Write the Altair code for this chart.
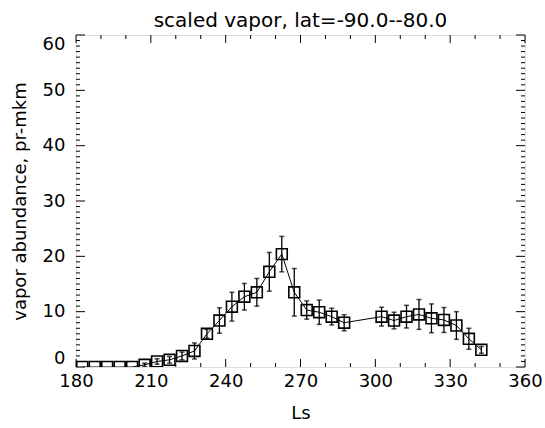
import altair as alt
import pandas as pd

# Data
ls = [182.5, 187.5, 192.5, 197.5, 202.5, 207.5, 212.5, 217.5, 222.5, 227.5,
      232.5, 237.5, 242.5, 247.5, 252.5, 257.5, 262.5, 267.5, 272.5, 277.5,
      282.5, 287.5, 302.5, 307.5, 312.5, 317.5, 322.5, 327.5, 332.5, 337.5, 342.5]
vapor = [0.0, 0.0, 0.0, 0.0, 0.0, 0.4, 1.0, 1.3, 2.0, 2.9,
         6.0, 8.4, 10.9, 12.7, 13.5, 17.2, 20.4, 13.5, 10.3, 9.9,
         9.1, 8.0, 9.1, 8.4, 9.1, 9.5, 8.8, 8.5, 7.5, 5.1, 3.1]
err = [0.0, 0.0, 0.0, 0.0, 0.0, 0.3, 0.5, 0.6, 0.7, 1.45,
       0.8, 2.3, 2.6, 2.4, 2.5, 3.5, 3.2, 4.3, 1.65, 2.2,
       1.5, 1.45, 1.7, 1.5, 2.05, 2.7, 2.6, 2.25, 2.5, 1.9, 0.6]

x_major = [180, 210, 240, 270, 300, 330, 360]
x_minor = [v for v in range(180, 361, 10) if v not in x_major]
y_major = [0, 10, 20, 30, 40, 50, 60]
y_minor = [v for v in range(0, 61) if v not in y_major]

title_text = "scaled vapor, lat=-90.0--80.0"
x_title = "Ls"
y_title = "vapor abundance, pr-mkm"

W, H = 449, 332
FONT = "DejaVu Sans"
FS = 18

df = pd.DataFrame({"ls": ls, "vapor": vapor, "err": err})
df["lo"] = df["vapor"] - df["err"]
df["hi"] = df["vapor"] + df["err"]

xs = alt.Scale(domain=[180, 360], nice=False, zero=False)
ys = alt.Scale(domain=[0, 60], nice=False, zero=False)

x_axis = alt.Axis(values=x_major, tickSize=0, domain=False, grid=False,
                  labelFlush=False, labelOverlap=False,
                  labelFont=FONT, labelFontSize=FS, labelColor="black",
                  labelPadding=5, titleFont=FONT, titleFontSize=FS,
                  titleFontWeight="normal", titleColor="black", titlePadding=14)
y_axis = alt.Axis(values=y_major, tickSize=0, domain=False, grid=False,
                  labelFlush=True, labelOverlap=False,
                  labelFont=FONT, labelFontSize=FS, labelColor="black",
                  labelPadding=11, titleFont=FONT, titleFontSize=FS,
                  titleFontWeight="normal", titleColor="black", titlePadding=13)


def X(field):
    return alt.X(field, type="quantitative", scale=xs, axis=x_axis, title=x_title)


def Y(field):
    return alt.Y(field, type="quantitative", scale=ys, axis=y_axis, title=y_title)


base = alt.Chart(df)

line = base.mark_line(color="black", strokeWidth=1, clip=True).encode(
    x=X("ls"), y=Y("vapor"))

points = base.mark_point(shape="square", filled=False, color="black",
                         size=118, strokeWidth=1.6, opacity=1, clip=True).encode(
    x=X("ls"), y=Y("vapor"))

eb = base.transform_filter("datum.err > 0")
ebars = eb.mark_rule(color="black", strokeWidth=1.3, clip=True).encode(
    x=X("ls"), y=Y("lo"), y2="hi:Q")
cap_lo = eb.mark_tick(color="black", orient="horizontal", size=5,
                      thickness=1.5, clip=True).encode(x=X("ls"), y=Y("lo"))
cap_hi = eb.mark_tick(color="black", orient="horizontal", size=5,
                      thickness=1.5, clip=True).encode(x=X("ls"), y=Y("hi"))

# inward box ticks
xmaj = pd.DataFrame({"t": x_major})
xmin = pd.DataFrame({"t": x_minor})
ymaj = pd.DataFrame({"t": y_major})
ymin = pd.DataFrame({"t": y_minor})


def xticks(d, length):
    bottom = alt.Chart(d).mark_rule(color="black", strokeWidth=1).encode(
        x=X("t"), y=alt.value(H), y2=alt.value(H - length))
    top = alt.Chart(d).mark_rule(color="black", strokeWidth=1).encode(
        x=X("t"), y=alt.value(0), y2=alt.value(length))
    return [bottom, top]


def yticks(d, length):
    left = alt.Chart(d).mark_rule(color="black", strokeWidth=1).encode(
        y=Y("t"), x=alt.value(0), x2=alt.value(length))
    right = alt.Chart(d).mark_rule(color="black", strokeWidth=1).encode(
        y=Y("t"), x=alt.value(W), x2=alt.value(W - length))
    return [left, right]


tick_layers = xticks(xmaj, 8) + xticks(xmin, 4) + yticks(ymaj, 9) + yticks(ymin, 4)

chart = alt.layer(line, ebars, cap_lo, cap_hi, points, *tick_layers).properties(
    width=W, height=H,
    autosize="none",
    padding={"left": 76, "top": 35, "right": 20, "bottom": 61},
    title=alt.TitleParams(title_text, font=FONT, fontSize=20, fontWeight="normal",
                          color="black", anchor="middle", frame="group",
                          offset=4),
).configure_view(stroke="black", strokeWidth=1.2).configure(background="white")

chart.save("out.html", embed_options={"renderer": "svg", "actions": False})
